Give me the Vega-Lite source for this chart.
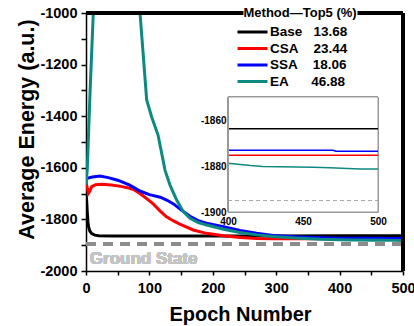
{
  "$schema": "https://vega.github.io/schema/vega-lite/v6.json",
  "width": 317,
  "height": 258,
  "autosize": {"type": "none"},
  "padding": {"left": 86, "top": 13, "right": 11, "bottom": 55},
  "background": "white",
  "config": {
    "view": {"stroke": null},
    "font": "Liberation Sans",
    "axis": {
      "domainColor": "black",
      "tickColor": "black",
      "labelColor": "black",
      "titleColor": "black",
      "domainWidth": 1.5,
      "tickWidth": 1.5,
      "grid": false,
      "labelFontWeight": "bold",
      "titleFontWeight": "bold",
      "labelFlush": false,
      "labelOverlap": false
    }
  },
  "data": {
    "values": [
      {"method": "Base", "epoch": 0, "energy": -1700},
      {"method": "Base", "epoch": 1, "energy": -1725},
      {"method": "Base", "epoch": 2, "energy": -1772},
      {"method": "Base", "epoch": 3, "energy": -1808},
      {"method": "Base", "epoch": 4, "energy": -1828},
      {"method": "Base", "epoch": 6, "energy": -1845},
      {"method": "Base", "epoch": 9, "energy": -1855},
      {"method": "Base", "epoch": 14, "energy": -1861},
      {"method": "Base", "epoch": 20, "energy": -1863},
      {"method": "Base", "epoch": 40, "energy": -1864},
      {"method": "Base", "epoch": 100, "energy": -1864},
      {"method": "Base", "epoch": 200, "energy": -1864},
      {"method": "Base", "epoch": 300, "energy": -1864},
      {"method": "Base", "epoch": 400, "energy": -1863.8},
      {"method": "Base", "epoch": 500, "energy": -1863.8},
      {"method": "CSA", "epoch": 0, "energy": -1652},
      {"method": "CSA", "epoch": 2, "energy": -1680},
      {"method": "CSA", "epoch": 4, "energy": -1698},
      {"method": "CSA", "epoch": 6, "energy": -1690},
      {"method": "CSA", "epoch": 9, "energy": -1673},
      {"method": "CSA", "epoch": 15, "energy": -1666},
      {"method": "CSA", "epoch": 25, "energy": -1664},
      {"method": "CSA", "epoch": 40, "energy": -1667},
      {"method": "CSA", "epoch": 55, "energy": -1672},
      {"method": "CSA", "epoch": 65, "energy": -1677},
      {"method": "CSA", "epoch": 75, "energy": -1684},
      {"method": "CSA", "epoch": 85, "energy": -1700},
      {"method": "CSA", "epoch": 95, "energy": -1718},
      {"method": "CSA", "epoch": 106, "energy": -1740},
      {"method": "CSA", "epoch": 117, "energy": -1768},
      {"method": "CSA", "epoch": 127, "energy": -1790},
      {"method": "CSA", "epoch": 138, "energy": -1806},
      {"method": "CSA", "epoch": 148, "energy": -1818},
      {"method": "CSA", "epoch": 169, "energy": -1841},
      {"method": "CSA", "epoch": 190, "energy": -1854},
      {"method": "CSA", "epoch": 217, "energy": -1863},
      {"method": "CSA", "epoch": 243, "energy": -1870},
      {"method": "CSA", "epoch": 269, "energy": -1874},
      {"method": "CSA", "epoch": 295, "energy": -1875},
      {"method": "CSA", "epoch": 350, "energy": -1875.3},
      {"method": "CSA", "epoch": 400, "energy": -1875.3},
      {"method": "CSA", "epoch": 500, "energy": -1875.3},
      {"method": "SSA", "epoch": 0, "energy": -1645},
      {"method": "SSA", "epoch": 3, "energy": -1640},
      {"method": "SSA", "epoch": 10, "energy": -1636},
      {"method": "SSA", "epoch": 22, "energy": -1632},
      {"method": "SSA", "epoch": 35, "energy": -1638},
      {"method": "SSA", "epoch": 50, "energy": -1648},
      {"method": "SSA", "epoch": 69, "energy": -1667},
      {"method": "SSA", "epoch": 85, "energy": -1690},
      {"method": "SSA", "epoch": 100, "energy": -1704},
      {"method": "SSA", "epoch": 117, "energy": -1714},
      {"method": "SSA", "epoch": 128, "energy": -1726},
      {"method": "SSA", "epoch": 138, "energy": -1740},
      {"method": "SSA", "epoch": 150, "energy": -1763},
      {"method": "SSA", "epoch": 164, "energy": -1788},
      {"method": "SSA", "epoch": 177, "energy": -1805},
      {"method": "SSA", "epoch": 190, "energy": -1815},
      {"method": "SSA", "epoch": 217, "energy": -1828},
      {"method": "SSA", "epoch": 243, "energy": -1843},
      {"method": "SSA", "epoch": 269, "energy": -1854},
      {"method": "SSA", "epoch": 295, "energy": -1862},
      {"method": "SSA", "epoch": 330, "energy": -1867},
      {"method": "SSA", "epoch": 360, "energy": -1870},
      {"method": "SSA", "epoch": 400, "energy": -1873.2},
      {"method": "SSA", "epoch": 470, "energy": -1873.2},
      {"method": "SSA", "epoch": 472, "energy": -1873.6},
      {"method": "SSA", "epoch": 500, "energy": -1873.6},
      {"method": "EA", "epoch": 0, "energy": -1665},
      {"method": "EA", "epoch": 2, "energy": -1605},
      {"method": "EA", "epoch": 6.5, "energy": -1300},
      {"method": "EA", "epoch": 11.5, "energy": -1000},
      {"method": "EA", "epoch": 18, "energy": -750},
      {"method": "EA", "epoch": 35, "energy": -600},
      {"method": "EA", "epoch": 55, "energy": -650},
      {"method": "EA", "epoch": 72, "energy": -820},
      {"method": "EA", "epoch": 85.2, "energy": -1000},
      {"method": "EA", "epoch": 95.7, "energy": -1337},
      {"method": "EA", "epoch": 103.6, "energy": -1403},
      {"method": "EA", "epoch": 113.6, "energy": -1473},
      {"method": "EA", "epoch": 119.9, "energy": -1550},
      {"method": "EA", "epoch": 124.6, "energy": -1609},
      {"method": "EA", "epoch": 132.5, "energy": -1667},
      {"method": "EA", "epoch": 143, "energy": -1725},
      {"method": "EA", "epoch": 153.5, "energy": -1770},
      {"method": "EA", "epoch": 164, "energy": -1796},
      {"method": "EA", "epoch": 177, "energy": -1812},
      {"method": "EA", "epoch": 190.4, "energy": -1822},
      {"method": "EA", "epoch": 217, "energy": -1838},
      {"method": "EA", "epoch": 243, "energy": -1851},
      {"method": "EA", "epoch": 269, "energy": -1860},
      {"method": "EA", "epoch": 295, "energy": -1866},
      {"method": "EA", "epoch": 330, "energy": -1872},
      {"method": "EA", "epoch": 370, "energy": -1877},
      {"method": "EA", "epoch": 400, "energy": -1878.8},
      {"method": "EA", "epoch": 415, "energy": -1879.8},
      {"method": "EA", "epoch": 423, "energy": -1880.2},
      {"method": "EA", "epoch": 457, "energy": -1880.5},
      {"method": "EA", "epoch": 468, "energy": -1880.8},
      {"method": "EA", "epoch": 488, "energy": -1881.3},
      {"method": "EA", "epoch": 500, "energy": -1881.3}
    ]
  },
  "layer": [
    {
      "mark": {"type": "line", "clip": true, "strokeWidth": 3},
      "encoding": {
        "x": {
          "field": "epoch", "type": "quantitative",
          "scale": {"domain": [0, 500], "nice": false, "zero": false},
          "axis": {
            "orient": "bottom",
            "values": [0, 50, 100, 150, 200, 250, 300, 350, 400, 450, 500],
            "labelExpr": "datum.value % 100 == 0 ? '' + datum.value : ''",
            "tickSize": 4, "labelPadding": 6, "labelFontSize": 14.5,
            "title": "Epoch Number", "titleFontSize": 20,
            "titleX": 154, "titleY": 49, "titleBaseline": "alphabetic", "titleAlign": "center"
          }
        },
        "y": {
          "field": "energy", "type": "quantitative",
          "scale": {"domain": [-2000, -1000], "nice": false, "zero": false},
          "axis": {
            "orient": "left",
            "values": [-2000, -1900, -1800, -1700, -1600, -1500, -1400, -1300, -1200, -1100, -1000],
            "labelExpr": "datum.value % 200 == 0 ? '' + datum.value : ''",
            "tickSize": 5, "labelPadding": 4, "labelFontSize": 14.5,
            "title": "Average Energy (a.u.)", "titleFontSize": 21.5,
            "titleX": -53, "titleY": 116, "titleBaseline": "alphabetic", "titleAngle": -90, "titleAlign": "center"
          }
        },
        "color": {
          "field": "method", "type": "nominal",
          "scale": {"domain": ["Base", "CSA", "SSA", "EA"], "range": ["#000000", "#ff0000", "#0000ff", "#0d8a80"]},
          "legend": {
            "orient": "none", "legendX": 157.5, "legendY": -6, "direction": "vertical",
            "title": "\u00a0Method\u2014Top5 (%)",
            "titleFontSize": 13, "titleFontWeight": "bold", "titleColor": "black", "titlePadding": 3,
            "labelFontSize": 13.5, "labelFontWeight": "bold", "labelColor": "black",
            "symbolType": "M-2,0H2", "symbolSize": 225, "symbolStrokeWidth": 3, "labelOffset": 8.5,
            "fillColor": "white", "padding": 0, "rowPadding": 0.5,
            "labelExpr": "datum.label == 'Base' ? 'Base\u00a0\u00a0\u00a013.68' : datum.label == 'CSA' ? 'CSA\u00a0\u00a0\u00a0\u00a023.44' : datum.label == 'SSA' ? 'SSA\u00a0\u00a0\u00a0\u00a018.06' : '\u00a0EA\u00a0\u00a0\u00a0\u00a0\u00a0\u00a046.88'"
          }
        }
      }
    },
    {
      "mark": {"type": "rule", "strokeDash": [10, 7], "strokeWidth": 3, "color": "#8c8c8c"},
      "encoding": {
        "x": {"datum": 0, "type": "quantitative", "scale": {"domain": [0, 500], "nice": false, "zero": false}, "axis": null},
        "x2": {"datum": 500},
        "y": {"datum": -1895, "type": "quantitative", "scale": {"domain": [-2000, -1000], "nice": false, "zero": false}, "axis": null}
      }
    },
    {
      "mark": {"type": "rule", "strokeWidth": 2.5, "color": "black"},
      "encoding": {
        "x": {"datum": 0, "type": "quantitative", "scale": {"domain": [0, 500], "nice": false, "zero": false}, "axis": null},
        "x2": {"datum": 500},
        "y": {"datum": -1000, "type": "quantitative", "scale": {"domain": [-2000, -1000], "nice": false, "zero": false}, "axis": null}
      }
    },
    {
      "mark": {"type": "rule", "strokeWidth": 2.5, "color": "black"},
      "encoding": {
        "x": {"datum": 500, "type": "quantitative", "scale": {"domain": [0, 500], "nice": false, "zero": false}, "axis": null},
        "y": {"datum": -2000, "type": "quantitative", "scale": {"domain": [-2000, -1000], "nice": false, "zero": false}, "axis": null},
        "y2": {"datum": -1000}
      }
    },
    {
      "mark": {"type": "text", "text": "Ground State", "align": "left", "baseline": "middle", "fontSize": 17, "fontWeight": "bold", "color": "#c4c4c4"},
      "encoding": {
        "x": {"datum": 6, "type": "quantitative", "scale": {"domain": [0, 500], "nice": false, "zero": false}, "axis": null},
        "y": {"datum": -1953, "type": "quantitative", "scale": {"domain": [-2000, -1000], "nice": false, "zero": false}, "axis": null}
      }
    },
    {
      "mark": {"type": "rect", "fill": "white", "stroke": "#999999", "strokeWidth": 1},
      "encoding": {
        "x": {"datum": 400, "type": "quantitative", "scale": {"domain": [400, 500], "range": [142, 292], "nice": false, "zero": false}, "axis": null},
        "x2": {"datum": 500},
        "y": {"datum": -1900, "type": "quantitative", "scale": {"domain": [-1900, -1850], "range": [199, 84], "nice": false, "zero": false}, "axis": null},
        "y2": {"datum": -1850}
      }
    },
    {
      "transform": [{"filter": "datum.epoch >= 400"}],
      "mark": {"type": "line", "strokeWidth": 1.5},
      "encoding": {
        "x": {"field": "epoch", "type": "quantitative",
          "scale": {"domain": [400, 500], "range": [142, 292], "nice": false, "zero": false},
          "axis": {"orient": "bottom", "offset": -59, "values": [400, 450, 500],
            "labelExpr": "'' + datum.value", "ticks": false, "labelPadding": 4, "labelFontSize": 10,
            "domainColor": "#999999", "domainWidth": 1, "title": null, "zindex": 1}},
        "y": {"field": "energy", "type": "quantitative",
          "scale": {"domain": [-1900, -1850], "range": [199, 84], "nice": false, "zero": false},
          "axis": {"orient": "left", "offset": -142, "values": [-1900, -1880, -1860],
            "labelExpr": "'' + datum.value", "ticks": false, "labelPadding": 2, "labelFontSize": 10,
            "domainColor": "#999999", "domainWidth": 1, "title": null, "zindex": 1}},
        "color": {"field": "method", "type": "nominal", "legend": null}
      }
    },
    {
      "mark": {"type": "rule", "strokeDash": [4, 3], "strokeWidth": 1, "color": "#aaaaaa"},
      "encoding": {
        "x": {"datum": 400, "type": "quantitative", "scale": {"domain": [400, 500], "range": [142, 292], "nice": false, "zero": false}, "axis": null},
        "x2": {"datum": 500},
        "y": {"datum": -1895, "type": "quantitative", "scale": {"domain": [-1900, -1850], "range": [199, 84], "nice": false, "zero": false}, "axis": null}
      }
    }
  ],
  "resolve": {"scale": {"x": "independent", "y": "independent"}, "axis": {"x": "independent", "y": "independent"}}
}
